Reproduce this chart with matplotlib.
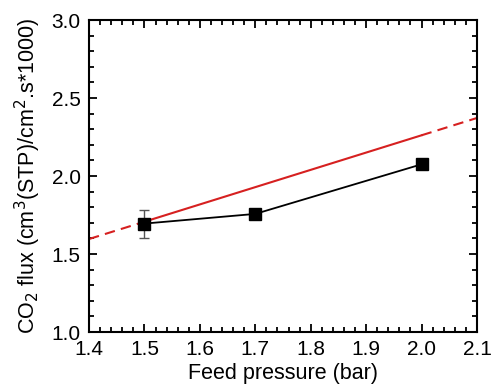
import matplotlib
matplotlib.use("Agg")
import matplotlib.pyplot as plt
from matplotlib.ticker import MultipleLocator

plt.rcParams['font.family'] = ['Liberation Sans', 'DejaVu Sans']

# measured flux
pressure = [1.5, 1.7, 2.0]
flux = [1.695, 1.757, 2.075]
flux_err = [0.09, 0, 0]

# linear reference line (solid part and dashed extensions)
ref_x = [1.5, 2.0]
ref_y = [1.707, 2.261]
ref_lo_x = [1.4, 1.5]
ref_lo_y = [1.596, 1.707]
ref_hi_x = [2.0, 2.1]
ref_hi_y = [2.261, 2.372]

fig = plt.figure(figsize=(4.91, 3.89), dpi=100)
ax = fig.add_axes([89 / 491, 1 - 332 / 389, (477 - 89) / 491, (332 - 20) / 389])

ax.plot(ref_x, ref_y, color='#d62020', lw=1.5, zorder=2)
ax.plot(ref_lo_x, ref_lo_y, color='#d62020', lw=1.5, ls=(0, (5, 3)), zorder=2)
ax.plot(ref_hi_x, ref_hi_y, color='#d62020', lw=1.5, ls=(0, (5, 3)), zorder=2)

ax.errorbar(pressure, flux, yerr=flux_err, color='black', ecolor='#555555',
            elinewidth=1, capsize=3.5, lw=1.3, marker='s', ms=9, zorder=3)

ax.set_xlim(1.4, 2.1)
ax.set_ylim(1.0, 3.0)
ax.xaxis.set_major_locator(MultipleLocator(0.1))
ax.xaxis.set_minor_locator(MultipleLocator(0.02))
ax.yaxis.set_major_locator(MultipleLocator(0.5))
ax.yaxis.set_minor_locator(MultipleLocator(0.1))
ax.tick_params(which='both', direction='in', top=True, right=True, width=1.3)
ax.tick_params(which='major', length=6, labelsize=15, pad=6)
ax.tick_params(which='minor', length=3.5)
ax.set_xticklabels([f"{v:.1f}" for v in ax.get_xticks()])
ax.set_yticklabels([f"{v:.1f}" for v in ax.get_yticks()])
for s in ax.spines.values():
    s.set_linewidth(1.5)

ax.set_xlabel('Feed pressure (bar)', fontsize=15.5, labelpad=3)
ax.set_ylabel(r'CO$_2$ flux (cm$^3$(STP)/cm$^2$.s*1000)', fontsize=15.5, labelpad=6)

fig.savefig('out.png', dpi=100)
